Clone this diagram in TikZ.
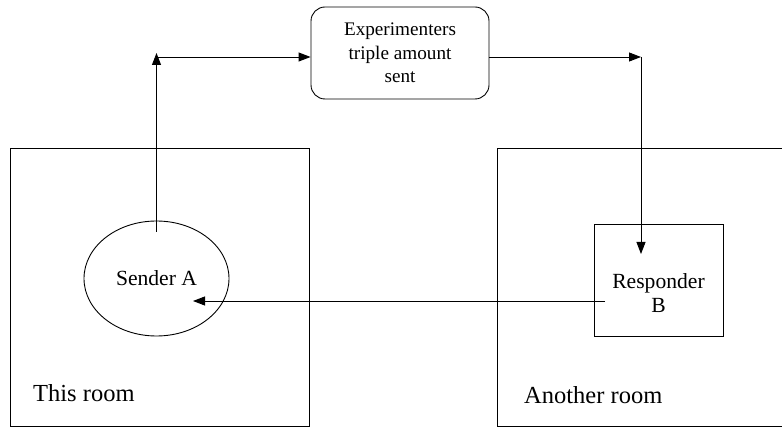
\documentclass[tikz,border=0pt]{standalone}
\usepackage{fontspec}
\setmainfont{Liberation Serif}
\usetikzlibrary{shapes.geometric,arrows.meta}

\begin{document}
\begin{tikzpicture}[x=1pt,y=1pt,yscale=-1,xscale=1,
	arr/.style={line width=0.9pt,-{Triangle[length=12pt,width=9pt]}},
	wall/.style={line width=0.9pt},
	roomlabel/.style={anchor=west,inner sep=0pt,font=\fontsize{24.5}{28}\selectfont}]
		\useasboundingbox (0,0) rectangle (782,427);
		
		%Shape: Rectangle [id:room1]
		\draw [wall] (10.5,148) rectangle (309,426) ;
		%Shape: Open rectangle [id:room2]
		\draw [wall] (790,148) -- (497,148) -- (497,426) -- (790,426) ;
		
		%Shape: Rounded rectangle [id:expt]
		\node (expt) [draw,line width=0.9pt,rounded corners=14pt,minimum width=178,minimum height=92,inner sep=0pt,align=center,font=\fontsize{19.2}{23.5}\selectfont] at (400,53) {Experimenters\\triple amount\\sent};
		%Shape: Ellipse [id:sender]
		\node (sender) [draw,ellipse,line width=0.9pt,minimum width=145,minimum height=115,inner sep=0pt,font=\fontsize{21.6}{24}\selectfont] at (156.5,278.5) {\raisebox{-3pt}{Sender A}};
		%Shape: Rectangle [id:responder]
		\node (responder) [draw,line width=0.9pt,minimum width=129,minimum height=112,inner sep=0pt] at (658.5,280) {};
		% Text Node
		\node (resptext) [align=center,inner sep=0pt,font=\fontsize{21.6}{24}\selectfont] at (658.5,293) {Responder\\B};
		
		\coordinate (sendtop) at (156.5,232);
		\coordinate (cornerA) at (156.5,53);
		\coordinate (startA) at (156.5,57);
		\coordinate (cornerB) at (641,57);
		\coordinate (respin) at (641,254);
		\coordinate (respout) at (605,301);
		\coordinate (sendin) at (193,301);
		
		%Straight Lines [id:up]
		\draw [arr] (sendtop) -- (cornerA) ;
		%Straight Lines [id:toexpt]
		\draw [arr] (startA) -- (startA -| expt.west) ;
		%Straight Lines [id:fromexpt]
		\draw [arr] (cornerB -| expt.east) -- (cornerB) ;
		%Straight Lines [id:down]
		\draw [arr] (cornerB) -- (respin) ;
		%Straight Lines [id:back]
		\draw [arr] (respout) -- (sendin) ;
		
		% Text Node
		\node (roomA) [roomlabel] at (33,393) {This room};
		% Text Node
		\node (roomB) [roomlabel] at (524,395) {Another room};
		
\end{tikzpicture}
\end{document}
